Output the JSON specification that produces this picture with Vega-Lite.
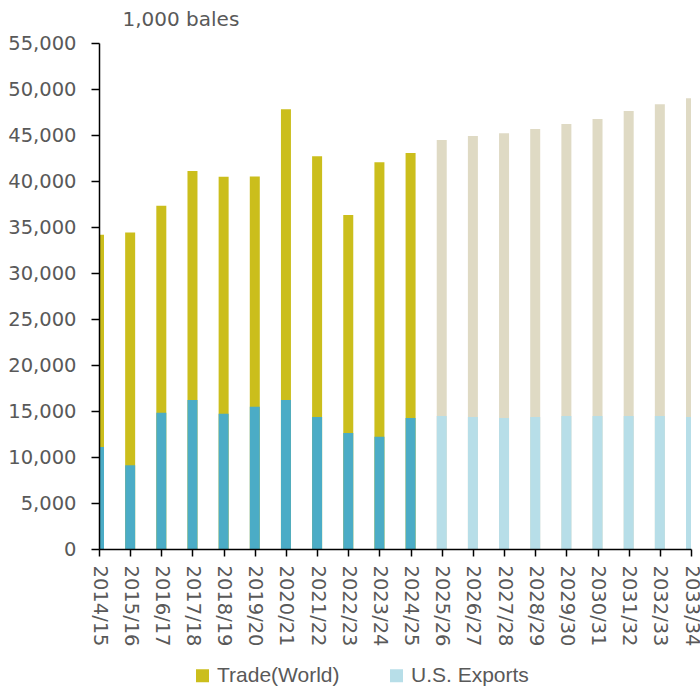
{
  "$schema": "https://vega.github.io/schema/vega-lite/v6.json",
  "width": 592,
  "height": 506,
  "autosize": {"type": "none"},
  "padding": {"left": 99, "top": 43, "right": 9, "bottom": 141},
  "background": "white",
  "config": {
    "view": {"stroke": null},
    "font": "DejaVu Sans",
    "axis": {"grid": false}
  },
  "data": {
    "values": [
      {"season": "2014/15", "series": "Trade", "key": "Trade(World)", "value": 34150},
      {"season": "2015/16", "series": "Trade", "key": "Trade(World)", "value": 34400},
      {"season": "2016/17", "series": "Trade", "key": "Trade(World)", "value": 37300},
      {"season": "2017/18", "series": "Trade", "key": "Trade(World)", "value": 41100},
      {"season": "2018/19", "series": "Trade", "key": "Trade(World)", "value": 40450},
      {"season": "2019/20", "series": "Trade", "key": "Trade(World)", "value": 40500},
      {"season": "2020/21", "series": "Trade", "key": "Trade(World)", "value": 47800},
      {"season": "2021/22", "series": "Trade", "key": "Trade(World)", "value": 42700},
      {"season": "2022/23", "series": "Trade", "key": "Trade(World)", "value": 36300},
      {"season": "2023/24", "series": "Trade", "key": "Trade(World)", "value": 42050},
      {"season": "2024/25", "series": "Trade", "key": "Trade(World)", "value": 43050},
      {"season": "2025/26", "series": "Trade", "key": "Trade(World) projection", "value": 44450},
      {"season": "2026/27", "series": "Trade", "key": "Trade(World) projection", "value": 44900},
      {"season": "2027/28", "series": "Trade", "key": "Trade(World) projection", "value": 45200},
      {"season": "2028/29", "series": "Trade", "key": "Trade(World) projection", "value": 45650},
      {"season": "2029/30", "series": "Trade", "key": "Trade(World) projection", "value": 46200},
      {"season": "2030/31", "series": "Trade", "key": "Trade(World) projection", "value": 46750},
      {"season": "2031/32", "series": "Trade", "key": "Trade(World) projection", "value": 47600},
      {"season": "2032/33", "series": "Trade", "key": "Trade(World) projection", "value": 48350},
      {"season": "2033/34", "series": "Trade", "key": "Trade(World) projection", "value": 49000},
      {"season": "2014/15", "series": "US", "key": "U.S. Exports actual", "value": 11100},
      {"season": "2015/16", "series": "US", "key": "U.S. Exports actual", "value": 9100},
      {"season": "2016/17", "series": "US", "key": "U.S. Exports actual", "value": 14800},
      {"season": "2017/18", "series": "US", "key": "U.S. Exports actual", "value": 16200},
      {"season": "2018/19", "series": "US", "key": "U.S. Exports actual", "value": 14700},
      {"season": "2019/20", "series": "US", "key": "U.S. Exports actual", "value": 15450},
      {"season": "2020/21", "series": "US", "key": "U.S. Exports actual", "value": 16200},
      {"season": "2021/22", "series": "US", "key": "U.S. Exports actual", "value": 14350},
      {"season": "2022/23", "series": "US", "key": "U.S. Exports actual", "value": 12600},
      {"season": "2023/24", "series": "US", "key": "U.S. Exports actual", "value": 12200},
      {"season": "2024/25", "series": "US", "key": "U.S. Exports actual", "value": 14250},
      {"season": "2025/26", "series": "US", "key": "U.S. Exports", "value": 14450},
      {"season": "2026/27", "series": "US", "key": "U.S. Exports", "value": 14350},
      {"season": "2027/28", "series": "US", "key": "U.S. Exports", "value": 14250},
      {"season": "2028/29", "series": "US", "key": "U.S. Exports", "value": 14350},
      {"season": "2029/30", "series": "US", "key": "U.S. Exports", "value": 14450},
      {"season": "2030/31", "series": "US", "key": "U.S. Exports", "value": 14450},
      {"season": "2031/32", "series": "US", "key": "U.S. Exports", "value": 14450},
      {"season": "2032/33", "series": "US", "key": "U.S. Exports", "value": 14450},
      {"season": "2033/34", "series": "US", "key": "U.S. Exports", "value": 14350}
    ]
  },
  "encoding": {
    "x": {
      "field": "season",
      "type": "ordinal",
      "scale": {"type": "point", "padding": 0},
      "axis": {
        "title": null,
        "labelAngle": 90,
        "labelFont": "DejaVu Sans",
        "labelFontSize": 19.5,
        "labelColor": "#595959",
        "labelPadding": 9,
        "domainColor": "#000000",
        "domainWidth": 1.5,
        "tickColor": "#000000",
        "tickWidth": 1.5,
        "tickSize": 7,
        "zindex": 1
      }
    },
    "y": {
      "field": "value",
      "type": "quantitative",
      "scale": {"domain": [0, 55000], "nice": false},
      "axis": {
        "title": "1,000 bales",
        "titleAngle": 0,
        "titleX": 23,
        "titleY": -18,
        "titleAlign": "left",
        "titleBaseline": "alphabetic",
        "titleFont": "DejaVu Sans",
        "titleFontSize": 20,
        "titleFontWeight": "normal",
        "titleColor": "#595959",
        "values": [0, 5000, 10000, 15000, 20000, 25000, 30000, 35000, 40000, 45000, 50000, 55000],
        "format": ",.0f",
        "labelFont": "DejaVu Sans",
        "labelFontSize": 19.5,
        "labelColor": "#595959",
        "labelPadding": 15,
        "domainColor": "#000000",
        "domainWidth": 1.5,
        "tickColor": "#000000",
        "tickWidth": 1.5,
        "tickSize": 8,
        "zindex": 1
      }
    },
    "color": {
      "field": "key",
      "type": "nominal",
      "scale": {
        "domain": ["Trade(World)", "Trade(World) projection", "U.S. Exports actual", "U.S. Exports"],
        "range": ["#CBBE1C", "#DFDAC4", "#4BACC6", "#B7DEE8"]
      },
      "legend": {
        "title": null,
        "orient": "none",
        "direction": "horizontal",
        "legendX": 93,
        "legendY": 622,
        "values": ["Trade(World)", "U.S. Exports"],
        "symbolType": "square",
        "symbolSize": 169,
        "symbolStrokeWidth": 0,
        "labelFont": "Liberation Sans",
        "labelFontSize": 21,
        "labelColor": "#595959",
        "labelOffset": 4,
        "columnPadding": 46,
        "labelLimit": 300,
        "encode": {
          "symbols": {
            "update": {
              "fill": {"signal": "datum.value === 'U.S. Exports' ? '#93CDDD' : '#C9BC1E'"},
              "opacity": {"value": 1}
            }
          }
        }
      }
    }
  },
  "layer": [
    {
      "transform": [{"filter": "datum.series === 'Trade'"}],
      "mark": {"type": "bar", "size": 10, "clip": true, "opacity": 1}
    },
    {
      "transform": [{"filter": "datum.series === 'US'"}],
      "mark": {"type": "bar", "size": 10, "clip": true, "opacity": 1}
    }
  ]
}
